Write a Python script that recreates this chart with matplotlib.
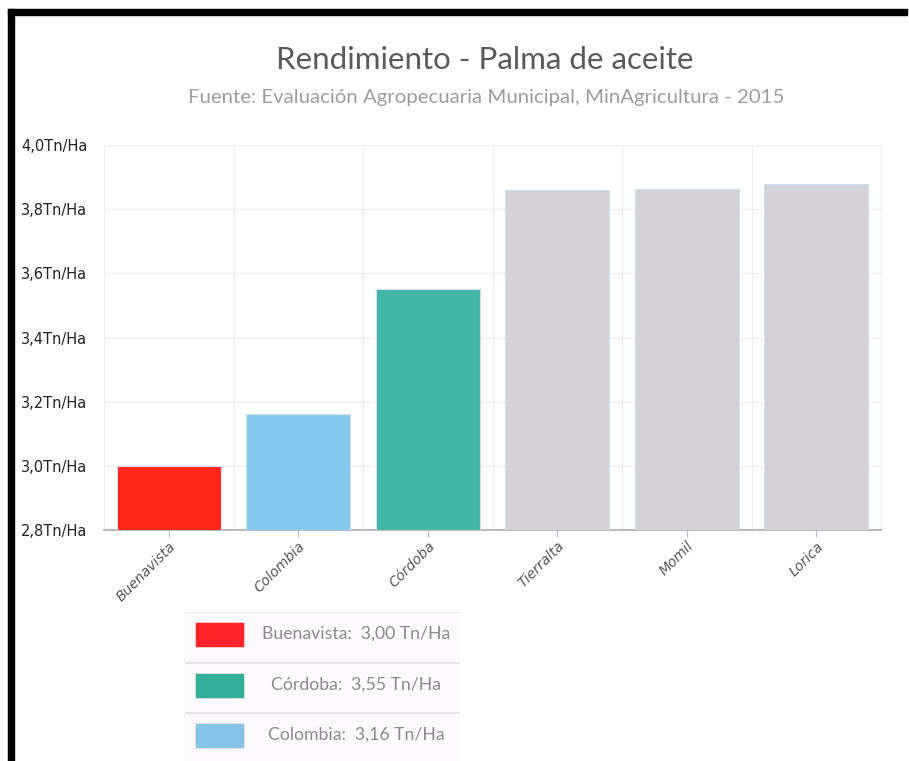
import matplotlib
matplotlib.use("Agg")
import matplotlib.pyplot as plt
from matplotlib.patches import Rectangle
from matplotlib.ticker import FuncFormatter

plt.rcParams["font.family"] = ["DejaVu Sans"]

categories = ["Buenavista", "Colombia", "Córdoba", "Tierralta", "Momil", "Lorica"]
values = [3.00, 3.16, 3.55, 3.86, 3.863, 3.88]
bar_colors = ["#ff2419", "#87c9ee", "#42b5a5", "#d4d2d6", "#d4d2d6", "#d4d2d6"]
legend_names = ["Buenavista", "Córdoba", "Colombia"]
legend_values = [3.00, 3.55, 3.16]
legend_colors = ["#ff2429", "#32ae99", "#88c3e8"]
y_ticks = [2.8, 3.0, 3.2, 3.4, 3.6, 3.8, 4.0]

title = "Rendimiento - Palma de aceite"
subtitle = "Fuente: Evaluación Agropecuaria Municipal, MinAgricultura - 2015"

W, H = 909, 761
fig = plt.figure(figsize=(W / 100, H / 100), dpi=100)
fig.patch.set_facecolor("white")

# black frame lines (top and left)
fig.patches.append(Rectangle((8 / W, 0), 6 / W, 1 - 9 / H, transform=fig.transFigure,
                             color="black", zorder=10))
fig.patches.append(Rectangle((8 / W, 1 - 15 / H), (907 - 8) / W, 6 / H,
                             transform=fig.transFigure, color="black", zorder=10))

ax = fig.add_axes([104 / W, 1 - 530 / H, (881 - 104) / W, (530 - 145) / H])
x = list(range(len(categories)))
base = y_ticks[0]
ax.bar(x, [v - base for v in values], bottom=base, width=0.8, color=bar_colors,
       edgecolor="#cfe0ee", linewidth=0.8, zorder=3)
ax.set_xlim(-0.5, len(categories) - 0.5)
ax.set_ylim(y_ticks[0], y_ticks[-1])
ax.set_yticks(y_ticks)
ax.yaxis.set_major_formatter(FuncFormatter(lambda v, p: f"{v:.1f}".replace(".", ",") + "Tn/Ha"))
ax.tick_params(axis="y", length=0, labelsize=10.5, labelcolor="#222222", pad=12)
ax.set_xticks(x)
ax.set_xticklabels(categories, rotation=45, ha="right", rotation_mode="anchor",
                   fontstyle="italic", fontsize=10, color="#555555")
ax.tick_params(axis="x", length=5, color="#bbbbbb", pad=1.5)
for b in [i - 0.5 for i in range(len(categories) + 1)]:
    ax.axvline(b, color="#eeeeee", lw=1, zorder=1)
ax.grid(axis="y", color="#f0ecef", lw=1, zorder=1)
for s in ["top", "right", "left"]:
    ax.spines[s].set_color("#eeeeee")
ax.spines["bottom"].set_color("#bbbbbb")
ax.spines["bottom"].set_linewidth(1.5)

fig.text(485 / W, 1 - 60 / H, title, ha="center", va="center", fontsize=22.5,
         color="#5a5a5a", family="Lato")
fig.text(486 / W, 1 - 98 / H, subtitle, ha="center", va="center", fontsize=14.7,
         color="#9d9d9d", family="Lato")

# legend table
lax = fig.add_axes([185 / W, 0, (460 - 185) / W, (761 - 612) / H])
lax.set_xlim(185, 460)
lax.set_ylim(761, 612)
lax.axis("off")
lax.add_patch(Rectangle((185, 612), 275, 149, color="#fdfafd", zorder=0))
for i, (n, v, c) in enumerate(zip(legend_names, legend_values, legend_colors)):
    y0 = 612 + i * 50.5
    lax.plot([185, 460], [y0, y0], color="#e2e2e2", lw=1.2)
    lax.add_patch(Rectangle((195, y0 + 10), 49, 25, facecolor=c, edgecolor="#f4dede", lw=0.5))
    lax.text(356, y0 + 22, f"{n}:  " + f"{v:.2f}".replace(".", ",") + " Tn/Ha",
             ha="center", va="center", fontsize=12.7, color="#8a8a8a", family="Lato")

fig.savefig("out.png", dpi=100)
